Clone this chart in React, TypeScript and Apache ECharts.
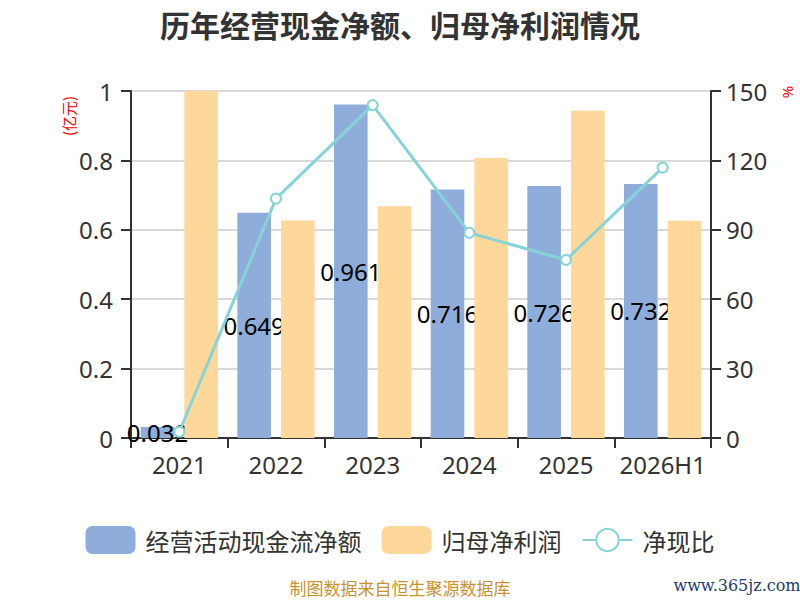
import React, { useEffect, useRef } from "react";
import * as echarts from "echarts";

const categories = ["2021", "2022", "2023", "2024", "2025", "2026H1"];
const cashFlow = [0.032, 0.649, 0.961, 0.716, 0.726, 0.732];
const netProfit = [1.18, 0.627, 0.668, 0.807, 0.943, 0.626];
const cashRatio = [2.7, 103.5, 143.9, 88.7, 77.0, 116.9];
const leftAxis = { min: 0, max: 1, interval: 0.2 };
const rightAxis = { min: 0, max: 150, interval: 30 };
const seriesNames = ["经营活动现金流净额", "归母净利润", "净现比"];

const BLUE = "#8FADDA";
const ORANGE = "#FED89B";
const TEAL = "#87D3D7";
const AXIS = "#333";
const FONT = "Noto Sans, Noto Sans CJK SC, sans-serif";

export default function App() {
  const ref = useRef<HTMLDivElement>(null);
  useEffect(() => {
    document.body.style.margin = "0";
    if (!ref.current) return;
    const chart = echarts.init(ref.current, null, { renderer: "svg" });
    const axisLabel = { color: "#333", fontSize: 24, fontFamily: FONT };
    chart.setOption({
      animation: false,
      textStyle: { fontFamily: FONT },
      title: {
        text: "历年经营现金净额、归母净利润情况",
        left: "center",
        top: 4,
        textStyle: { fontSize: 30, fontWeight: "bold", color: "#333", fontFamily: "Noto Sans CJK SC" },
      },
      legend: {
        top: 521,
        left: "center",
        itemWidth: 50,
        itemHeight: 28,
        itemGap: 20,
        textStyle: { fontSize: 24, color: "#333", fontFamily: "Noto Sans CJK SC", padding: [0, 0, 0, 5] },
        data: seriesNames,
      },
      grid: { left: 131, right: 89, top: 91, bottom: 162 },
      xAxis: {
        type: "category",
        data: categories,
        axisLine: { lineStyle: { color: AXIS, width: 2 } },
        axisTick: { show: true, length: 10, lineStyle: { color: AXIS, width: 2 } },
        axisLabel: { ...axisLabel, margin: 14, interval: 0 },
      },
      yAxis: [
        {
          type: "value",
          ...leftAxis,
          axisLine: { show: true, lineStyle: { color: AXIS, width: 2 } },
          axisTick: { show: true, length: 10, lineStyle: { color: AXIS, width: 2 } },
          axisLabel: { ...axisLabel, margin: 18 },
          splitLine: { lineStyle: { color: "#ccc", width: 1.5 } },
        },
        {
          type: "value",
          ...rightAxis,
          position: "right",
          axisLine: { show: true, lineStyle: { color: AXIS, width: 2 } },
          axisTick: { show: true, length: 10, lineStyle: { color: AXIS, width: 2 } },
          axisLabel: { ...axisLabel, margin: 15 },
          splitLine: { show: false },
        },
      ],
      graphic: [
        {
          type: "text",
          x: 68,
          y: 116,
          rotation: Math.PI / 2,
          style: { text: "(亿元)", fill: "#f00", fontSize: 15, fontFamily: "Noto Sans CJK SC", align: "center", verticalAlign: "middle" },
        },
        {
          type: "text",
          x: 787,
          y: 92,
          rotation: Math.PI / 2,
          style: { text: "%", fill: "#f00", fontSize: 15, fontFamily: FONT, align: "center", verticalAlign: "middle" },
        },
        {
          type: "text",
          x: 400,
          y: 587,
          style: { text: "制图数据来自恒生聚源数据库", fill: "#C8922E", fontSize: 17, lineHeight: 17, fontFamily: "Noto Sans CJK SC", align: "center", verticalAlign: "middle" },
        },
        {
          type: "text",
          x: 737,
          y: 585,
          style: { text: "www.365jz.com", fill: "#1E3B70", fontSize: 16, lineHeight: 16, fontFamily: "DejaVu Serif", align: "center", verticalAlign: "middle" },
        },
      ],
      series: [
        {
          name: seriesNames[0],
          type: "bar",
          z: 2,
          data: cashFlow,
          barGap: "30%",
          barCategoryGap: "20%",
          itemStyle: { color: BLUE },
          label: {
            show: true,
            position: "inside",
            color: "#000",
            fontSize: 24,
            fontFamily: FONT,
            formatter: (p: any) => Number(p.value).toFixed(3),
          },
        },
        {
          name: seriesNames[1],
          type: "bar",
          z: 3,
          data: netProfit,
          itemStyle: { color: ORANGE },
        },
        {
          name: seriesNames[2],
          type: "line",
          z: 4,
          yAxisIndex: 1,
          data: cashRatio,
          symbol: "emptyCircle",
          symbolSize: 10,
          lineStyle: { color: TEAL, width: 3 },
          itemStyle: { color: TEAL, borderWidth: 2 },
        },
      ],
    });
    return () => chart.dispose();
  }, []);
  return <div ref={ref} style={{ width: 800, height: 600 }} />;
}
